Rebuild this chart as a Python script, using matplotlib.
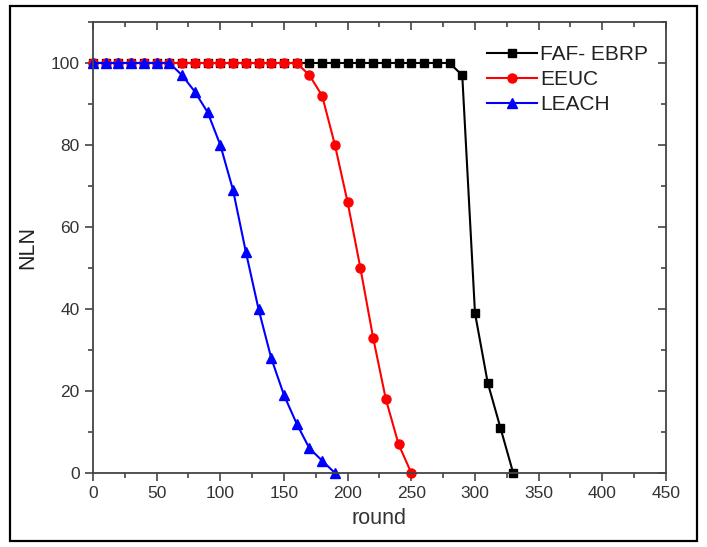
import numpy as np
import matplotlib.pyplot as plt
from matplotlib.patches import Rectangle
from matplotlib.ticker import MultipleLocator

plt.rcParams['font.family'] = ['Liberation Sans', 'DejaVu Sans']

##number of live nodes per round for each protocol
faf_rounds = np.arange(0, 340, 10)
faf_nln = [100] * 29 + [97, 39, 22, 11, 0]

eeuc_rounds = np.arange(0, 260, 10)
eeuc_nln = [100] * 17 + [97, 92, 80, 66, 50, 33, 18, 7, 0]

leach_rounds = np.arange(0, 200, 10)
leach_nln = [100] * 7 + [97, 93, 88, 80, 69, 54, 40, 28, 19, 12, 6, 3, 0]

series = [
    ('FAF- EBRP', faf_rounds, faf_nln, 'black', 's', 5.5),
    ('EEUC', eeuc_rounds, eeuc_nln, 'red', 'o', 6.5),
    ('LEACH', leach_rounds, leach_nln, 'blue', '^', 6.5),
]

fig = plt.figure(figsize=(7.07, 5.47), dpi=100)
ax = fig.add_axes([0.1315, 0.1353, 0.8105, 0.8245])

for name, x, y, col, mk, ms in series:
    ax.plot(x, y, color=col, marker=mk, markersize=ms, lw=1.5, label=name, clip_on=False)

ax.set_xlim(0, 450)
ax.set_ylim(0, 110)
ax.xaxis.set_major_locator(MultipleLocator(50))
ax.xaxis.set_minor_locator(MultipleLocator(25))
ax.yaxis.set_major_locator(MultipleLocator(20))
ax.yaxis.set_minor_locator(MultipleLocator(10))

for s in ax.spines.values():
    s.set_linewidth(1.3)
    s.set_color('#444444')

ax.tick_params(which='both', direction='out', color='#444444', width=1.2,
               labelsize=12.5, labelcolor='#333333')
ax.tick_params(which='major', length=6)
ax.tick_params(which='minor', length=3.5)

##mirror ticks on top and right without labels
axt = ax.secondary_xaxis('top')
axt.xaxis.set_major_locator(MultipleLocator(50))
axt.xaxis.set_minor_locator(MultipleLocator(25))
axt.tick_params(which='both', direction='in', color='#444444', width=1.2, labeltop=False)
axt.tick_params(which='major', length=6)
axt.tick_params(which='minor', length=3.5)
axt.spines['top'].set_visible(False)
axr = ax.secondary_yaxis('right')
axr.yaxis.set_major_locator(MultipleLocator(20))
axr.yaxis.set_minor_locator(MultipleLocator(10))
axr.tick_params(which='both', direction='in', color='#444444', width=1.2, labelright=False)
axr.tick_params(which='major', length=6)
axr.tick_params(which='minor', length=3.5)
axr.spines['right'].set_visible(False)

ax.set_xlabel('round', fontsize=15.5, color='#333333', labelpad=5)
ax.set_ylabel('NLN', fontsize=15.5, color='#222222', labelpad=9)

ax.legend(loc='upper left', bbox_to_anchor=(0.689, 0.918), bbox_transform=fig.transFigure,
          frameon=False, fontsize=15, borderpad=0, borderaxespad=0,
          handlelength=2.4, handletextpad=0.15, labelspacing=0.3, labelcolor='#222222')

##outer frame around the whole figure
fig.patches.append(Rectangle((10 / 707, 6 / 547), 687 / 707, 535 / 547, transform=fig.transFigure,
                             fill=False, edgecolor='black', lw=1.6))

fig.savefig('out.png', dpi=100)
